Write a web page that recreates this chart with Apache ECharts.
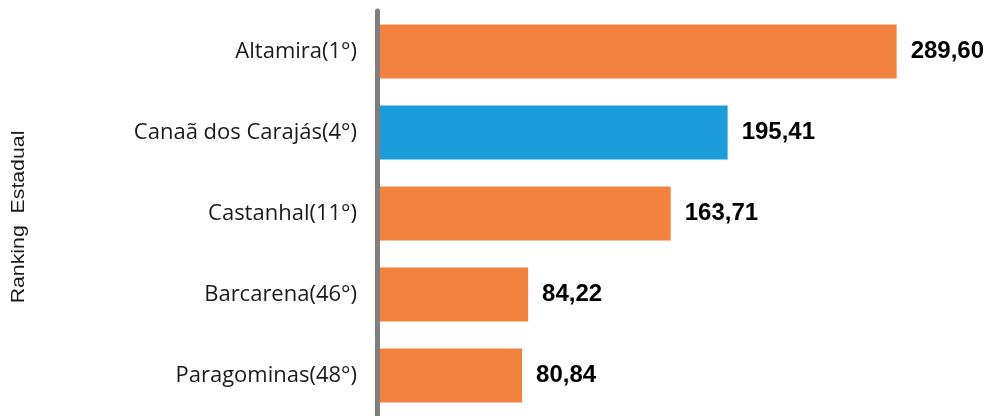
<!DOCTYPE html>
<html>
<head>
<meta charset="utf-8">
<script src="https://cdn.jsdelivr.net/npm/echarts@6/dist/echarts.min.js"></script>
<style>
  html, body { margin: 0; padding: 0; background: #ffffff; }
  #chart { width: 989px; height: 416px; }
</style>
</head>
<body>
<div id="chart"></div>
<script>
// Municipalities with their position in the state ranking
const categories = [
  'Altamira(1°)',
  'Canaã dos Carajás(4°)',
  'Castanhal(11°)',
  'Barcarena(46°)',
  'Paragominas(48°)'
];
const values = [289.60, 195.41, 163.71, 84.22, 80.84];
const highlighted = ['Canaã dos Carajás(4°)'];
const axisTitle = 'Ranking  Estadual';

const ORANGE = '#F4823F';
const BLUE = '#1A9DDA';

const chart = echarts.init(document.getElementById('chart'), null, { renderer: 'canvas' });

chart.setOption({
  animation: false,
  backgroundColor: '#ffffff',
  grid: { left: 377, right: 73.7, top: 11, bottom: -5, containLabel: false },
  xAxis: {
    type: 'value',
    min: 0,
    max: 300,
    show: false
  },
  yAxis: {
    type: 'category',
    data: categories,
    inverse: true,
    z: 10,
    axisLine: { show: true, lineStyle: { color: '#7F7F7F', width: 5 } },
    axisTick: { show: false },
    splitLine: { show: false },
    axisLabel: {
      margin: 20,
      fontFamily: 'Open Sans',
      fontSize: 22,
      color: '#1a1a1a'
    }
  },
  graphic: [{
    type: 'text',
    x: 19,
    y: 217,
    rotation: Math.PI / 2,
    scaleX: 1.12,
    style: {
      text: axisTitle,
      font: '19px "Liberation Sans", Arial, sans-serif',
      fill: '#1a1a1a',
      align: 'center',
      verticalAlign: 'middle'
    }
  }],
  series: [{
    type: 'bar',
    data: values,
    barWidth: 54,
    itemStyle: {
      color: p => highlighted.includes(categories[p.dataIndex]) ? BLUE : ORANGE
    },
    label: {
      show: true,
      position: 'right',
      distance: 14,
      fontFamily: '"Liberation Sans", Arial, sans-serif',
      fontWeight: 'bold',
      fontSize: 24,
      color: '#000000',
      formatter: p => p.value.toFixed(2).replace('.', ',')
    }
  }]
});
</script>
</body>
</html>
